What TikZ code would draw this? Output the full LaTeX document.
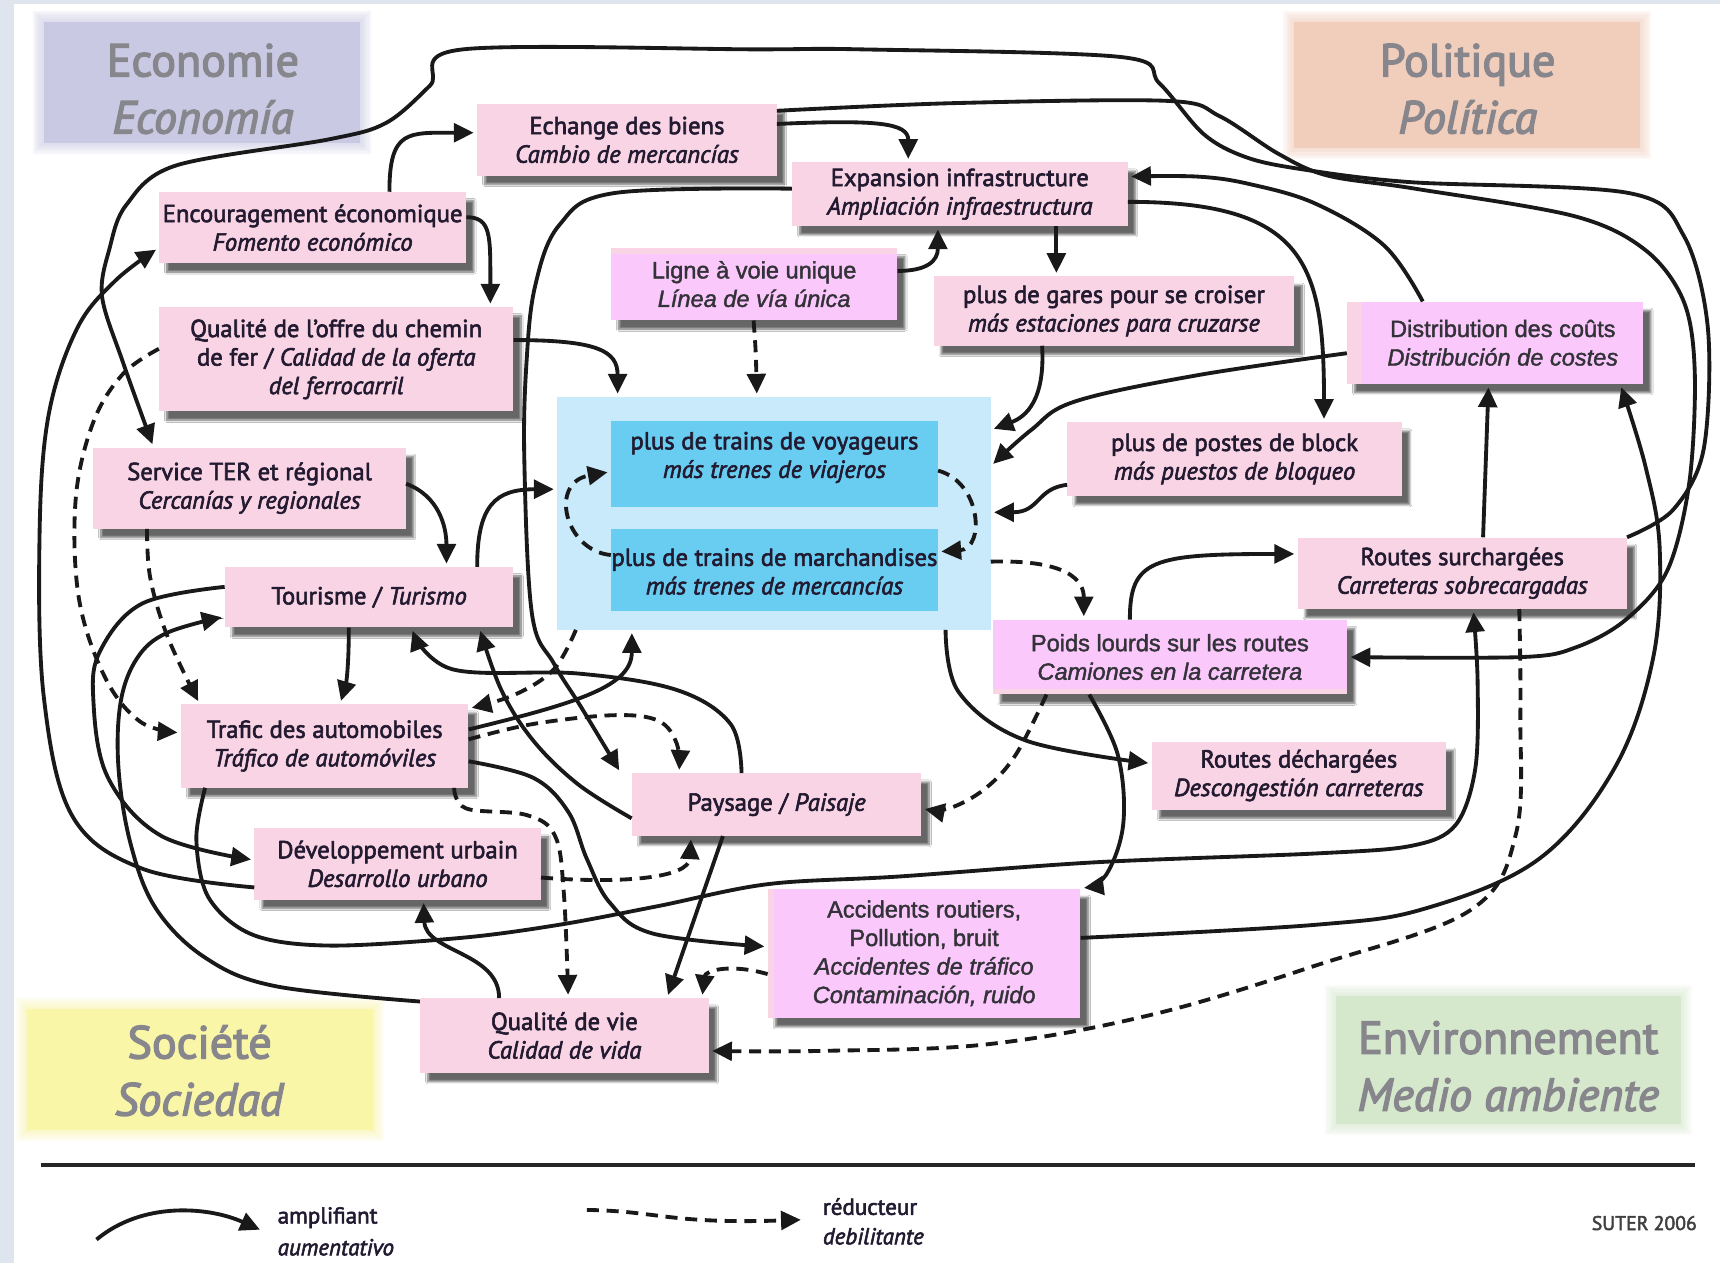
\documentclass[tikz,border=0pt]{standalone}
\usepackage{fontspec}
\setmainfont{PT Sans}[FakeBold=2.4]
\newfontfamily\arialf{Liberation Sans}[FakeBold=1.6]
\newfontfamily\catf{PT Sans}[FakeBold=3]
\usetikzlibrary{arrows.meta,shadows.blur}
\definecolor{pinkc}{RGB}{249,212,228}
\definecolor{magc}{RGB}{251,200,252}
\definecolor{lbc}{RGB}{200,234,250}
\definecolor{cyc}{RGB}{104,205,240}
\definecolor{ecoc}{RGB}{201,201,228}
\definecolor{polc}{RGB}{241,205,188}
\definecolor{socc}{RGB}{250,246,168}
\definecolor{envc}{RGB}{214,232,204}
\definecolor{txtc}{RGB}{34,26,48}
\definecolor{atxt}{RGB}{50,50,56}
\definecolor{gtxt}{RGB}{134,134,140}
\definecolor{bgc}{RGB}{223,229,238}
\tikzset{
  pbox/.style={rectangle, fill=pinkc, inner sep=0pt, align=center, text=txtc,
    font=\fontsize{22.5}{26}\selectfont,
    blur shadow={shadow xshift=7pt, shadow yshift=-8pt, shadow blur steps=8, shadow opacity=60}},
  mbox/.style={pbox, font=\arialf\fontsize{21.5}{26}\selectfont, text=atxt},
  tbox/.style={rectangle, fill=cyc, inner sep=0pt},
  ttext/.style={align=center, inner sep=0pt, text=txtc, font=\fontsize{22.5}{26}\selectfont},
  cattext/.style={align=center, text=gtxt, inner sep=0pt, font=\catf\fontsize{42}{52}\selectfont},
  amp/.style={line width=3.5pt, draw=black!90, -{Triangle[length=18pt,width=17pt]}, shorten >=3pt},
  redu/.style={amp, dash pattern=on 11pt off 7pt},
  legtext/.style={anchor=west, inner sep=0pt, text=txtc, font=\fontsize{21}{26}\selectfont},
}
\begin{document}
\begin{tikzpicture}[x=1pt,y=-1pt]
\path[use as bounding box] (0,0) rectangle (1568,1151);
\fill[white] (0,0) rectangle (1568,1151);
\fill[bgc] (0,0) rectangle (13,1151);
\fill[bgc] (0,0) rectangle (1568,4);

% category areas
\foreach \i in {1,...,5}{
  \fill[ecoc, opacity=0.16] (40-2*\i,20-2*\i) rectangle (328+2*\i,130+2*\i);
  \fill[polc, opacity=0.16] (1180-2*\i,20-2*\i) rectangle (1495+2*\i,135+2*\i);
  \fill[socc, opacity=0.16] (25-2*\i,920-2*\i) rectangle (340+2*\i,1030+2*\i);
  \fill[envc, opacity=0.16] (1218-2*\i,908-2*\i) rectangle (1532+2*\i,1025+2*\i);
}
\fill[ecoc] (40,20) rectangle (328,130);
\fill[polc] (1180,20) rectangle (1495,135);
\fill[socc] (25,920) rectangle (340,1030);
\fill[envc] (1218,908) rectangle (1532,1025);
\node[cattext] (eco) at (185,81) {Economie\\\textit{Economía}};
\node[cattext] (pol) at (1338,81) {Politique\\\textit{Política}};
\node[cattext] (soc) at (182,976) {Société\\\textit{Sociedad}};
\node[cattext] (env) at (1375,972) {Environnement\\\textit{Medio ambiente}};

% light blue area
\node[rectangle, fill=lbc, minimum width=395pt, minimum height=212pt, inner sep=0pt] (lb) at (705.5,468) {};
\node[tbox, minimum width=298pt, minimum height=78pt] (voy) at (706,423) {};
\node[ttext] (voyt) at (706,417) {plus de trains de voyageurs\\\textit{más trenes de viajeros}};
\node[tbox, minimum width=298pt, minimum height=75pt] (mar) at (706,519.5) {};
\node[ttext] (mart) at (706,521) {plus de trains de marchandises\\\textit{más trenes de mercancías}};

% boxes
\node[pbox, minimum width=273pt, minimum height=65pt] (ech) at (571.5,127.5) {Echange des biens\\\textit{Cambio de mercancías}};
\node[pbox, minimum width=280pt, minimum height=65pt] (enc) at (285,207.5) {Encouragement économique\\\textit{Fomento económico}};
\node[pbox, minimum width=306pt, minimum height=58pt] (exp) at (875,177) {Expansion infrastructure\\\textit{Ampliación infraestructura}};
\node[mbox, minimum width=261pt, minimum height=66pt,
  path picture={\fill[magc] ([yshift=-6pt]path picture bounding box.north west) rectangle (path picture bounding box.south east);}]
  (lig) at (687.5,259) {Ligne à voie unique\\\textit{Línea de vía única}};
\node[pbox, minimum width=329pt, minimum height=63pt] (gar) at (1015.5,283.5) {plus de gares pour se croiser\\\textit{más estaciones para cruzarse}};
\node[mbox, minimum width=270pt, minimum height=75pt,
  path picture={\fill[magc] ([xshift=14pt]path picture bounding box.north west) rectangle (path picture bounding box.south east);}]
  (dis) at (1363,312.5) {\hspace*{14pt}Distribution des coûts\\\hspace*{14pt}\textit{Distribución de costes}};
\node[pbox, minimum width=323pt, minimum height=95pt] (qual) at (306.5,327.5) {Qualité de l’offre du chemin\\de fer / \textit{Calidad de la oferta}\\\textit{del ferrocarril}};
\node[pbox, minimum width=305pt, minimum height=67pt] (blk) at (1125.5,418.5) {plus de postes de block\\\textit{más puestos de bloqueo}};
\node[pbox, minimum width=285pt, minimum height=74pt] (ter) at (227.5,445) {Service TER et régional\\\textit{Cercanías y regionales}};
\node[pbox, minimum width=263pt, minimum height=55pt] (tou) at (336.5,544.5) {Tourisme / \textit{Turismo}};
\node[pbox, minimum width=300pt, minimum height=65pt] (rsu) at (1333,522.5) {Routes surchargées\\\textit{Carreteras sobrecargadas}};
\node[mbox, minimum width=323pt, minimum height=68pt,
  path picture={\fill[magc] (path picture bounding box.north west) rectangle ([yshift=5pt]path picture bounding box.south east);}]
  (poi) at (1066.5,599) {Poids lourds sur les routes\\\textit{Camiones en la carretera}};
\node[pbox, minimum width=262pt, minimum height=76pt] (tra) at (296,680) {Trafic des automobiles\\\textit{Tráfico de automóviles}};
\node[pbox, minimum width=268pt, minimum height=62pt] (rde) at (1184,707) {Routes déchargées\\\textit{Descongestión carreteras}};
\node[pbox, minimum width=264pt, minimum height=57pt] (pay) at (708,733.5) {Paysage / \textit{Paisaje}};
\node[pbox, minimum width=261pt, minimum height=65pt] (dev) at (362.5,787.5) {Développement urbain\\\textit{Desarrollo urbano}};
\node[mbox, minimum width=285pt, minimum height=118pt,
  path picture={\fill[magc] ([xshift=6pt]path picture bounding box.north west) rectangle (path picture bounding box.south east);}]
  (acc) at (842.5,869) {Accidents routiers,\\Pollution, bruit\\\textit{Accidentes de tráfico}\\\textit{Contaminación, ruido}};
\node[pbox, minimum width=263pt, minimum height=68pt] (qdv) at (514.5,944) {Qualité de vie\\\textit{Calidad de vida}};

% ---------- connectors ----------
\draw[amp] (enc.north -| 355,0) .. controls (355,118) and (372,121) .. (ech.west |- 0,121);
\draw[amp] (enc.east |- 0,198) .. controls (448,198) and (447,215) .. (qual.north -| 447,0);
\draw[amp] (ech.east |- 0,113) .. controls (800,109) and (828,112) .. (exp.north -| 828,0);
% Echange -> Poids lourds
\draw[amp] plot[smooth, tension=0.55] coordinates {(ech.east |- 0,101) (870,94) (1065,92) (1112,106) (1165,140) (1210,160) (1290,172) (1435,197) (1500,228) (1535,275) (1545,340) (1540,440) (1520,520) (1482,565) (1437,590) (1387,599) (poi.east |- 0,599)};
% Routes surchargees -> Service TER
\draw[amp] plot[smooth, tension=0.55] coordinates {(rsu.north east) (1525,465) (1553,410) (1557,300) (1535,215) (1485,176) (1285,166) (1185,154) (1135,143) (1097,122) (1057,76) (1022,52) (785,45) (690,45) (422,45) (392,78) (352,112) (300,127) (160,151) (115,187) (100,226) (93,270) (112,330) (ter.north -| 140,0)};
% Distribution -> Expansion
\draw[amp] plot[smooth, tension=0.6] coordinates {(dis.north -| 1297,0) (1262,224) (1200,186) (1140,168) (1092,161) (exp.east |- 0,161)};
% Expansion -> block
\draw[amp] (exp.east |- 0,184) .. controls (1190,184) and (1207,240) .. (blk.north -| 1207,0);
% Expansion -> gares
\draw[amp] (exp.south -| 963,0) -- (gar.north -| 963,0);
% Ligne -> Expansion
\draw[amp] (lig.east |- 0,247) .. controls (845,247) and (855,238) .. (exp.south -| 855,0);
% Ligne -> trains (dashed)
\draw[redu] (lig.south -| 687,0) .. controls (689,320) .. (lb.north -| 690,0);
% gares -> trains
\draw[amp] (gar.south -| 950,0) .. controls (953,365) and (935,380) .. (lb.east |- 0,392);
% Distribution -> trains
\draw[amp] plot[smooth, tension=0.6] coordinates {(dis.west |- 0,322) (1092,342) (980,366) (940,392) (lb.east |- 0,425)};
% block -> trains
\draw[amp] (blk.west |- 0,442) .. controls (945,445) and (948,467) .. (lb.east |- 0,467);
% voyageurs <-> marchandises
\draw[redu] (voy.east |- 0,429) .. controls (895,440) and (898,500) .. (mar.east |- 0,503);
\draw[redu] (mar.west |- 0,506) .. controls (515,502) and (500,440) .. (voy.west |- 0,430);
% trains -> Poids lourds (dashed)
\draw[redu] (lb.east |- 0,512) .. controls (975,510) and (988,530) .. (poi.north -| 988,0);
% Poids lourds -> Routes surchargees
\draw[amp] (poi.north -| 1030,0) .. controls (1030,510) and (1050,505) .. (rsu.west |- 0,505);
% Routes surchargees -> Distribution
\draw[amp] (rsu.north -| 1352,0) -- (dis.south -| 1357,0);
% Accidents -> Distribution
\draw[amp] plot[smooth, tension=0.6] coordinates {(acc.east |- 0,855) (1200,843) (1300,828) (1403,783) (1472,700) (1507,600) (1513,500) (1500,425) (dis.south -| 1477,0)};
% Qualite offre -> trains
\draw[amp] (qual.east |- 0,310) .. controls (545,310) and (563,320) .. (lb.north -| 563,0);
% Qualite offre -> Trafic (dashed)
\draw[redu] plot[smooth, tension=0.6] coordinates {(qual.west |- 0,318) (112,341) (85,385) (69,455) (72,546) (96,618) (128,658) (tra.west |- 0,668)};
% Developpement -> Encouragement
\draw[amp] plot[smooth, tension=0.6] coordinates {(dev.west |- 0,809) (130,792) (66,744) (40,636) (36,491) (44,380) (70,300) (105,256) (enc.west |- 0,226)};
% Service TER -> Trafic (dashed)
\draw[redu] plot[smooth, tension=0.6] coordinates {(ter.south -| 134,0) (137,527) (153,581) (tra.north -| 182,0)};
% Service TER -> Tourisme
\draw[amp] (ter.east |- 0,441) .. controls (400,452) and (407,480) .. (tou.north -| 407,0);
% Tourisme -> trains
\draw[amp] (tou.north -| 435,0) .. controls (435,460) and (452,446) .. (lb.west |- 0,446);
% Tourisme -> Trafic
\draw[amp] (tou.south -| 318,0) .. controls (318,612) and (315,625) .. (tra.north -| 310,0);
% Tourisme -> Developpement
\draw[amp] plot[smooth, tension=0.6] coordinates {(tou.west |- 0,535) (130,550) (92,592) (85,636) (98,708) (147,762) (dev.west |- 0,784)};
% Qualite de vie -> Tourisme
\draw[amp] plot[smooth, tension=0.6] coordinates {(qdv.west |- 0,913) (251,899) (187,873) (142,828) (119,769) (108,700) (110,640) (125,600) (152,577) (tou.west |- 0,562)};
% Trafic -> Routes surchargees
\draw[amp] plot[smooth, tension=0.55] coordinates {(tra.south -| 187,0) (179,765) (190,818) (230,852) (300,862) (420,855) (510,843) (600,826) (700,806) (820,799) (1000,786) (1200,778) (1287,771) (1327,752) (1345,700) (1347,620) (rsu.south -| 1343,0)};
% Qualite de vie -> Developpement
\draw[amp] (qdv.north -| 455,0) .. controls (455,868) and (388,868) .. (dev.south -| 386,0);
% Developpement -> Paysage (dashed)
\draw[redu] (dev.east |- 0,800) .. controls (570,806) and (628,800) .. (pay.south -| 630,0);
% Trafic -> Qualite de vie (dashed)
\draw[redu] plot[smooth, tension=0.6] coordinates {(tra.south -| 414,0) (425,737) (480,743) (506,762) (514,814) (qdv.north -| 518,0)};
% Trafic -> trains
\draw[amp] (tra.east |- 0,665) .. controls (530,640) and (576,625) .. (lb.south -| 576,0);
% trains -> Trafic (dashed)
\draw[redu] plot[smooth, tension=0.6] coordinates {(lb.south -| 525,0) (505,610) (470,633) (tra.east |- 0,646)};
% Trafic -> Paysage (dashed)
\draw[redu] plot[smooth, tension=0.6] coordinates {(tra.east |- 0,674) (486,660) (559,652) (600,657) (617,678) (pay.north -| 619,0)};
% Trafic -> Accidents
\draw[amp] plot[smooth, tension=0.6] coordinates {(tra.east |- 0,694) (486,709) (518,740) (535,783) (556,823) (595,851) (acc.west |- 0,863)};
% Paysage -> Tourisme (2)
\draw[amp] plot[smooth, tension=0.6] coordinates {(pay.north -| 676,0) (666,660) (617,629) (527,614) (412,610) (tou.south -| 375,0)};
\draw[amp] plot[smooth, tension=0.6] coordinates {(pay.west |- 0,746) (527,715) (486,675) (457,629) (tou.south -| 437,0)};
% Expansion -> Paysage
\draw[amp] plot[smooth, tension=0.6] coordinates {(exp.west |- 0,172) (560,176) (510,205) (488,260) (480,330) (478,420) (485,560) (505,605) (530,645) (pay.north -| 566,0)};
% Paysage -> Qualite de vie
\draw[amp] (pay.south -| 659,0) -- (qdv.north -| 608,0);
% Accidents -> Qualite de vie (dashed)
\draw[redu] (acc.west |- 0,888) .. controls (665,878) and (643,885) .. (qdv.north -| 640,0);
% Routes surchargees -> Qualite de vie (dashed)
\draw[redu] plot[smooth, tension=0.6] coordinates {(rsu.south -| 1385,0) (1386,650) (1382,760) (1340,830) (1200,880) (1050,925) (900,952) (750,958) (qdv.east |- 0,958)};
% Poids lourds -> Accidents
\draw[amp] plot[smooth, tension=0.6] coordinates {(poi.south -| 993,0) (1019,688) (1024,751) (1008,798) (acc.north east)};
% Poids lourds -> Paysage (dashed)
\draw[redu] plot[smooth, tension=0.6] coordinates {(poi.south -| 954,0) (926,688) (898,719) (865,737) (pay.east |- 0,737)};
% trains -> Routes dechargees
\draw[amp] plot[smooth, tension=0.6] coordinates {(lb.south -| 862,0) (874,631) (935,675) (rde.west |- 0,696)};

% ---------- legend ----------
\coordinate (sepL) at (37,1062);
\coordinate (sepR) at (1545,1062);
\draw[line width=3.5pt, black!85] (sepL) -- (sepR);
\coordinate (lgA) at (88,1130);
\coordinate (lgB) at (237,1121);
\draw[amp, shorten >=0pt] (lgA) .. controls (130,1095) and (190,1100) .. (lgB);
\coordinate (lgC) at (535,1103);
\coordinate (lgD) at (730,1112);
\draw[redu, shorten >=0pt] (lgC) .. controls (600,1104) and (610,1116) .. (lgD);
\node[legtext] (l1) at (253,1110) {amplifiant};
\node[legtext] (l2) at (253,1137) {\textit{aumentativo}};
\node[legtext] (l3) at (750,1100) {réducteur};
\node[legtext] (l4) at (750,1127) {\textit{debilitante}};
\node[anchor=east, inner sep=0pt, text=black!75, font=\fontsize{18}{22}\selectfont] (sut) at (1547,1115) {SUTER 2006};
\end{tikzpicture}
\end{document}
